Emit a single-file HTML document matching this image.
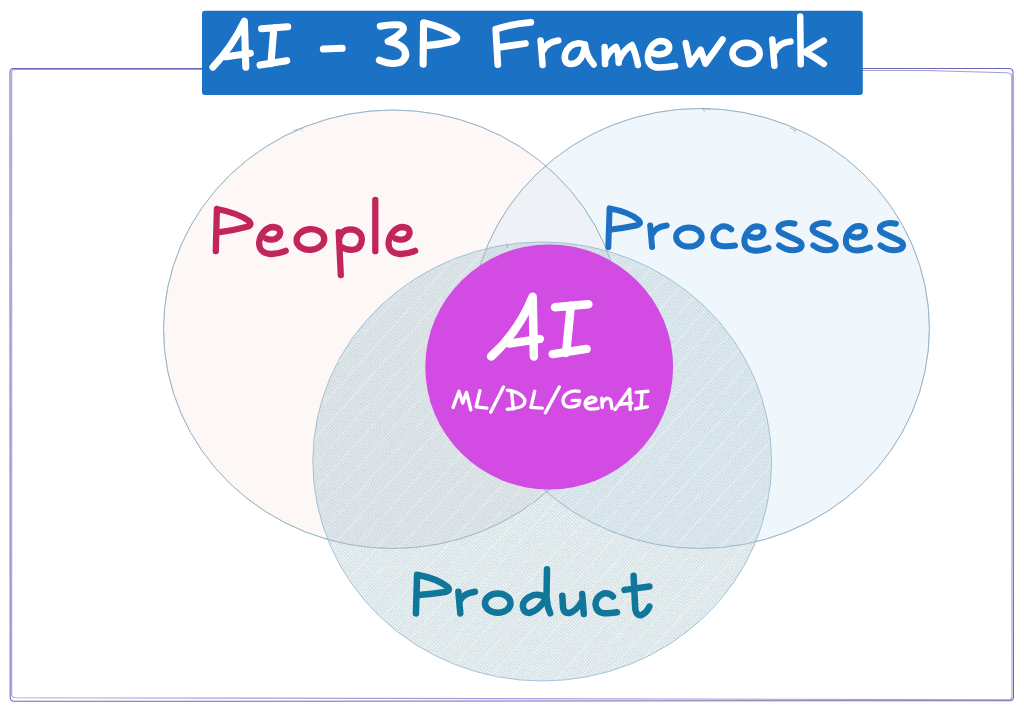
<!DOCTYPE html>
<html><head><meta charset="utf-8">
<style>
html,body{margin:0;padding:0;background:#fff;font-family:"Liberation Sans",sans-serif;}
svg{display:block}
.t{fill:none;stroke-linecap:round;stroke-linejoin:round}
</style></head><body>
<svg width="1024" height="711" viewBox="0 0 1024 711">
<defs>
<pattern id="hp" width="2.3" height="2.3" patternUnits="userSpaceOnUse" patternTransform="rotate(-48)">
<rect width="2.3" height="1.15" fill="#69919e" fill-opacity="0.26"/></pattern>
<pattern id="hp2" width="17" height="17" patternUnits="userSpaceOnUse" patternTransform="rotate(-48)">
<rect width="17" height="1.2" fill="#ffffff" fill-opacity="0.35"/></pattern>
<filter id="grain" x="0" y="0" width="100%" height="100%"><feTurbulence type="fractalNoise" baseFrequency="0.85" numOctaves="2" seed="7"/><feColorMatrix type="matrix" values="0 0 0 0 0.40  0 0 0 0 0.54  0 0 0 0 0.60  6 0 0 0 -3.0"/></filter>
<clipPath id="cpProd"><ellipse cx="542.2" cy="461.5" rx="229.4" ry="219.5"/></clipPath>
<clipPath id="cpPeople"><ellipse cx="392.9" cy="329.25" rx="229.4" ry="219.25" /></clipPath>
</defs>
<rect width="1024" height="711" fill="#ffffff"/>
<!-- frame -->
<path d="M13 68.4 L1009 68.4 Q1013 68.4 1013 72.4 L1013.5 697 Q1013.5 700.5 1010 700.7 L14 701.3 Q10.5 701.3 10.2 697.5 L10 72 Q10 68.6 13 68.4 Z" fill="none" stroke="#524eac" stroke-opacity="0.85" stroke-width="1.05"/>
<path d="M14 69.2 L925 70.5 L1007 72.8 Q1011.5 73 1011.8 77 L1012 696 Q1012 699.5 1008.5 699.8 L500 698.6 L15 697.7 Q11.8 697.5 11.7 694 L11.7 73 Q11.7 69.5 14 69.2 Z" fill="none" stroke="#615dba" stroke-opacity="0.6" stroke-width="1.05"/>
<!-- fills -->
<ellipse cx="392.9" cy="329.25" rx="229.4" ry="219.25" fill="#fdf7f6"/>
<ellipse cx="700" cy="328.45" rx="229.4" ry="220" fill="#c8e1f3" fill-opacity="0.28"/>
<ellipse cx="392.9" cy="329.25" rx="229.4" ry="219.25" fill="none" stroke="#9ab6c9" stroke-width="1"/>
<ellipse cx="700" cy="328.45" rx="229.4" ry="220" fill="none" stroke="#9ab6c9" stroke-width="1"/>
<ellipse cx="542.2" cy="461.5" rx="229.4" ry="219.5" fill="#e0ecf1" fill-opacity="0.32"/>
<ellipse cx="542.2" cy="461.5" rx="229.4" ry="219.5" fill="url(#hp)"/>
<ellipse cx="542.2" cy="461.5" rx="229.4" ry="219.5" fill="url(#hp2)"/>
<g clip-path="url(#cpProd)"><rect x="310" y="240" width="465" height="445" filter="url(#grain)" opacity="0.22"/></g>
<g clip-path="url(#cpPeople)"><ellipse cx="542.2" cy="461.5" rx="229.4" ry="219.5" fill="#78a0be" fill-opacity="0.035"/></g>
<!-- strokes -->
<ellipse cx="392.9" cy="329.25" rx="229.4" ry="219.25" fill="none" stroke="#9ab6c9" stroke-opacity="0.45" stroke-width="1"/>
<ellipse cx="700" cy="328.45" rx="229.4" ry="220" fill="none" stroke="#9ab6c9" stroke-opacity="0.45" stroke-width="1"/>
<ellipse cx="542.2" cy="461.5" rx="229.4" ry="219.5" fill="none" stroke="#92b8cf" stroke-opacity="0.8" stroke-width="1"/>
<path d="M293.5 130.4 L303.5 127.8 M301.5 129.8 L303.2 131.5 M703 108 L704.5 112 M700 108.6 L710 109.2 M790 128 L795.5 130.5 L794 132.5 M507 243.2 L507.6 248" fill="none" stroke="#8fa6b6" stroke-opacity="0.7" stroke-width="0.9"/>
<!-- AI -->
<ellipse cx="549.2" cy="367" rx="123.9" ry="122.5" fill="#d24be3"/>
<!-- title -->
<rect x="202" y="10.7" width="660.8" height="84.2" rx="3" fill="#1b71c3"/>
<g id="txt-title" class="t" stroke="#fff" stroke-width="6.5">
<g stroke-width="7.1">
<path d="M212.9 67.1 Q232 47 244.4 21.3 L245.8 67.1 M226.2 56.7 L250.3 53.3"/>
<path d="M261.6 28.7 L287.7 26.7 M273.9 27.7 L270.9 63.6 M260.1 65.1 L286.7 60.7"/>
<path d="M323.4 49 L342.2 48.3"/>
<path d="M380.3 26.2 Q392 24 400 25 Q405.5 27 402 32 Q396 38 388.2 41.5 Q399 43 404 49 Q408.5 57 400.5 62.3 Q392 65.5 379.4 60.2"/>
<path d="M423.6 22.8 L423.1 64.1 M423.6 22.8 Q444 27.5 455 35.5 Q459.5 39.5 452 41.5 Q440 44.5 428 45.4"/>
</g>
<path d="M495.8 29.2 L497.8 64.6 M495.8 29.2 Q514 23.5 530.8 22.3 M498.8 47.4 L525.4 43.5" stroke-width="6.8"/>
<path d="M540.6 40.5 L542.6 65.1 M543.1 50.4 Q547 42 558.3 40.5"/>
<path d="M584 44.5 C580 42.5 574 43 570 46.5 C565.5 50.5 563.5 57 565.5 61 C567.5 65 574 65 578.5 61 C582.5 57 584.5 51 585 44.5 C585.5 51 589 59 593.7 64.5"/>
<path d="M604.6 47 L605.1 64.1 M605.4 59.5 Q609 50.5 616 46.8 Q618.5 52 618.7 62.8 M619 60 Q624 49.5 632 45 Q635.5 53 638 65"/>
<path d="M653.2 53.3 C658 55.5 666 54.5 668.5 50 C670.8 45.5 667 41 661 40.9 C653 41.2 648 50 647.9 57.5 C648.2 64.5 653 67.8 659 67.6 C665 67.4 670 66.8 675.1 65.9"/>
<path d="M685.7 43 L690.1 64.5 L700.6 49.6 L705.5 63.7 L722.6 39.5"/>
<ellipse cx="746.1" cy="53.4" rx="13.6" ry="10.6"/>
<path d="M772.3 39.5 L774.4 65.7 M775 51.5 Q779 42.5 790.5 41.5"/>
<path d="M800.2 16.6 L800.7 64.2 M823.8 40.6 L805 52 Q813 56 823.8 63.9"/>
</g>
<g id="txt-people" class="t" stroke="#c2255c" stroke-width="6.3">
<path d="M216.9 209 L215.8 251.2 M216.9 209 Q238 213 249 221 Q253 225.5 246 227 Q233 230.5 219.7 232.2"/>
<path d="M 266.2 238.6 C 270.6 240.6 276.6 239.9 279.2 235.8 C 281.6 231.4 279.4 227.3 273.3 227.0 C 266.2 227.0 259.6 234.4 259.1 243.2 C 259.1 250.7 265.1 254.0 271.7 254.0 C 277.2 253.9 281.6 252.6 285.7 250.8"/>
<ellipse cx="310.4" cy="239.5" rx="13.9" ry="10.3" transform="rotate(-6 310.4 239.5)"/>
<path d="M338.7 232.2 L340.8 275.1 M339.6 238 Q342 229.5 350 229.4 Q361.5 230 361.9 239.5 Q361 249.5 352 249.8 Q345 250 340.1 246.3"/>
<path d="M375.3 199.8 L375.3 251.2"/>
<path d="M 395.6 238.6 C 400.0 240.6 406.1 239.9 408.6 235.8 C 411.0 231.4 408.8 227.3 402.8 227.0 C 395.6 227.0 389.0 234.4 388.5 243.2 C 388.5 250.7 394.5 254.0 401.1 254.0 C 406.6 253.9 411.0 252.6 415.1 250.8"/>
</g>
<g id="txt-proc" class="t" stroke="#1c71c2" stroke-width="6.0">
<path d="M609.6 208.4 L608.3 247.1 M609.6 208.4 Q629 212 638.5 220 Q642.5 224 636 225.5 Q624 228 611.5 229.4"/>
<path d="M650.2 225.5 L652.1 247.1 M651.7 235 Q655 227 666.7 225.5"/>
<ellipse cx="688.9" cy="237" rx="12.8" ry="9.6"/>
<path d="M731.2 229.4 Q727 225.5 721.5 226.5 Q713.5 229.5 713.4 237.5 Q714 245 721.7 246 Q728 246.7 735 245.5"/>
<path d="M 750.8 236.8 C 754.8 238.6 760.3 238.0 762.6 234.3 C 764.8 230.3 762.8 226.5 757.3 226.3 C 750.8 226.3 744.8 233.0 744.3 241.0 C 744.3 247.8 749.8 250.8 755.8 250.8 C 760.8 250.7 764.8 249.5 768.5 247.9"/>
<path d="M 794.5 223.7 C 790.5 222.9 785.5 222.9 782.0 224.5 C 778.0 226.3 777.0 230.2 781.0 232.7 C 786.5 235.7 794.5 238.7 799.0 241.2 C 803.0 243.7 802.5 248.2 797.5 249.7 C 791.5 251.2 784.5 249.2 779.2 245.3"/>
<path d="M 828.6 223.7 C 824.6 222.9 819.6 222.9 816.1 224.5 C 812.1 226.3 811.1 230.2 815.1 232.7 C 820.6 235.7 828.6 238.7 833.1 241.2 C 837.1 243.7 836.6 248.2 831.6 249.7 C 825.6 251.2 818.6 249.2 813.3 245.3"/>
<path d="M 852.3 236.5 C 856.3 238.3 861.8 237.7 864.1 234.0 C 866.3 230.0 864.3 226.2 858.8 226.0 C 852.3 226.0 846.3 232.7 845.8 240.7 C 845.8 247.5 851.3 250.5 857.3 250.5 C 862.3 250.4 866.3 249.2 870.0 247.6"/>
<path d="M 895.9 223.7 C 891.9 222.9 886.9 222.9 883.4 224.5 C 879.4 226.3 878.4 230.2 882.4 232.7 C 887.9 235.7 895.9 238.7 900.4 241.2 C 904.4 243.7 903.9 248.2 898.9 249.7 C 892.9 251.2 885.9 249.2 880.6 245.3"/>
</g>
<g id="txt-prod" class="t" stroke="#11779a" stroke-width="6.5">
<path d="M417.1 574.7 L415.9 613.4 M417.1 574.7 Q437 578.5 447 586.5 Q451.5 590.5 445 592 Q432 594 419 595"/>
<path d="M458.4 591.8 L460.3 613.4 M459.9 601 Q463 593.5 474.9 591.8"/>
<ellipse cx="497.75" cy="603.2" rx="12.8" ry="9.6"/>
<path d="M547 569.3 L546.5 597 Q547 606 550.2 613.3 M545.5 597.5 Q540 593.5 533 595.2 Q523 599 522.8 606 Q523.5 613 529.5 613 Q538 611 545.8 599"/>
<path d="M562.3 595.7 L563.1 608 Q564 613.5 569 613 Q576 611.5 582 601 M582.2 594 L583.8 613.9"/>
<path d="M612.9 596.5 Q609 592.5 603.5 593.5 Q595.5 597 595.5 604.5 Q596.5 612.5 603.5 613.2 Q610 613.5 617 612.3"/>
<path d="M633.6 575.75 L635.3 609.5 Q636.5 616 641.5 615 Q647 612.5 649.4 606.5 M624.5 589.9 L649.4 586.5"/>
</g>
<g id="txt-ai" class="t" stroke="#fff" stroke-width="8.5">
<path d="M491.1 356.5 Q519 331 532.7 296.7 L533.9 356.5 M509.3 343.6 L539.8 338.9"/>
<path d="M555 307.3 L588.4 304.3 M570.8 305.5 L566.1 353 M552.7 354.1 L586.6 348.9"/>
</g>
<g id="txt-ml" class="t" stroke="#fff" stroke-width="3.4">
<path d="M453.1 407.4 L459 391.3 L462.7 403.1 L466.5 392.4 L470.8 409.9"/>
<path d="M479.9 390.7 L476.2 406.9 L486.9 408.1"/>
<path d="M503.5 387 L490.7 412.2"/>
<path d="M511.6 390.7 L513.2 409 M507.3 390.2 Q520 391.5 524.5 399 Q526 404.5 520 407 Q514 409 507.3 409.2"/>
<path d="M534.7 391.3 L530.9 407.4 L542.2 408.1"/>
<path d="M559.3 387 L545.4 412.8"/>
<path d="M579.2 391.3 Q573 390 568 392.9 Q562.5 396.5 563.1 401.5 Q564 407 569.5 407 Q575 407 578.7 404.7 L579.7 400.4 L572.2 400.4"/>
<path d="M586.2 404.2 L595 401.3 Q597 400 595 398.3 Q592 396.5 589 398 Q585 400.5 585.1 404.5 Q586 408.8 590.5 409 Q594.5 409.2 598 408.3"/>
<path d="M601.8 398.3 L602.3 407.4 M602.3 402.6 Q605 398.3 607.7 398.3 Q610.5 398.8 610.9 401.5 L612 408.5"/>
<path d="M615.2 409.5 L629.7 389.1 L630.2 409.5 M620.6 404.2 L631.8 403.1"/>
<path d="M636.1 392.4 L648 391.3 M642.1 391.8 L641 407.9 M635.6 408.8 L647.4 406.9"/>
</g>
</svg>
</body></html>
